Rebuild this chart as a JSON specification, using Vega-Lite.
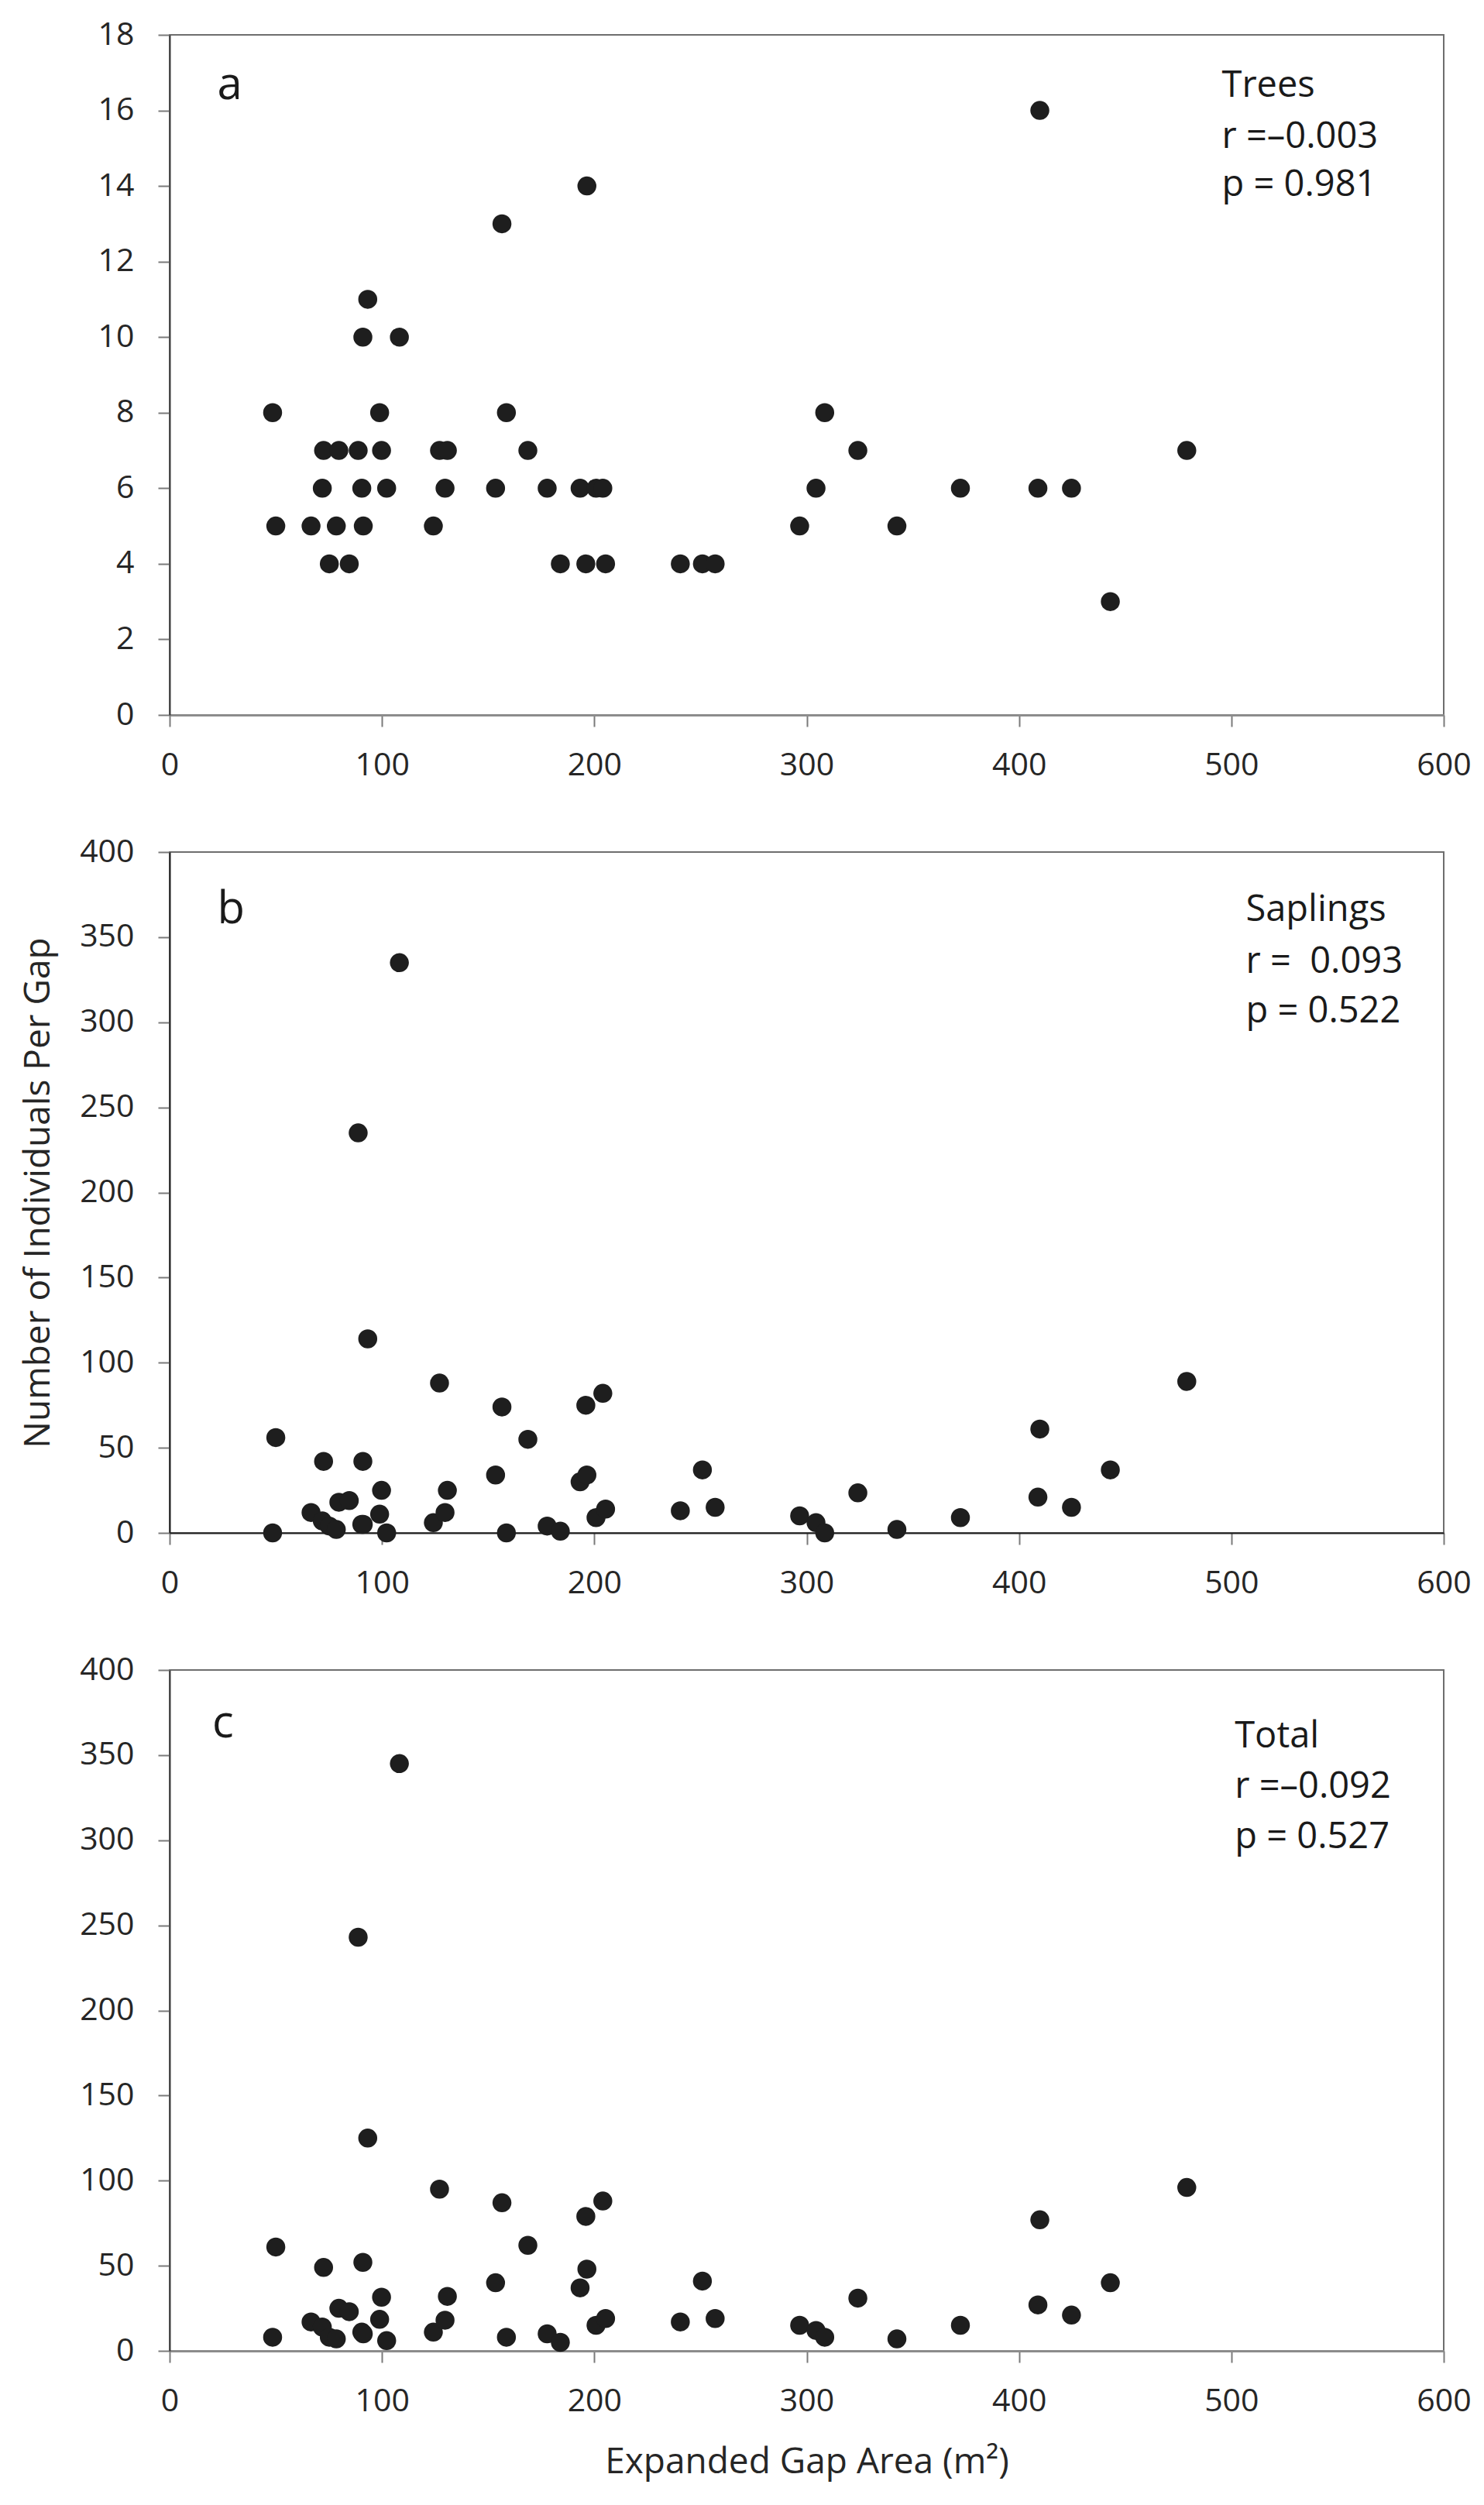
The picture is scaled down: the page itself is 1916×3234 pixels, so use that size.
{
  "$schema": "https://vega.github.io/schema/vega-lite/v6.json",
  "padding": {"left": 25, "top": 23, "right": 10, "bottom": 10},
  "background": "white",
  "bounds": "flush",
  "spacing": 177,
  "config": {
    "font": "Open Sans",
    "view": {"stroke": "#6e6e6e", "strokeWidth": 2},
    "axis": {
      "grid": false,
      "labelFont": "Open Sans",
      "labelFontSize": 41,
      "labelColor": "#262626",
      "labelPadding": 30,
      "labelFlush": false,
      "titleFont": "Open Sans",
      "titleFontSize": 46,
      "titleFontWeight": "normal",
      "titleColor": "#262626",
      "tickSize": 15,
      "tickColor": "#7a7a7a",
      "tickWidth": 2,
      "domainColor": "#3a3a3a",
      "domainWidth": 2
    }
  },
  "datasets": {
    "gaps": [
      {"area": 48.5, "trees": 8, "saplings": 0, "total": 8},
      {"area": 50.0, "trees": 5, "saplings": 56, "total": 61},
      {"area": 66.6, "trees": 5, "saplings": 12, "total": 17},
      {"area": 71.9, "trees": 6, "saplings": 7, "total": 14},
      {"area": 72.5, "trees": 7, "saplings": 42, "total": 49},
      {"area": 75.2, "trees": 4, "saplings": 4, "total": 8},
      {"area": 78.5, "trees": 5, "saplings": 2, "total": 7},
      {"area": 79.7, "trees": 7, "saplings": 18, "total": 25},
      {"area": 84.6, "trees": 4, "saplings": 19, "total": 23},
      {"area": 88.8, "trees": 7, "saplings": 235, "total": 243},
      {"area": 90.5, "trees": 6, "saplings": 5, "total": 11},
      {"area": 91.0, "trees": 10, "saplings": 42, "total": 52},
      {"area": 91.2, "trees": 5, "saplings": 5, "total": 10},
      {"area": 93.3, "trees": 11, "saplings": 114, "total": 125},
      {"area": 98.9, "trees": 8, "saplings": 11, "total": 18.5},
      {"area": 99.8, "trees": 7, "saplings": 25, "total": 31.5},
      {"area": 102.2, "trees": 6, "saplings": 0, "total": 6},
      {"area": 108.2, "trees": 10, "saplings": 335, "total": 345},
      {"area": 124.2, "trees": 5, "saplings": 6, "total": 11},
      {"area": 127.1, "trees": 7, "saplings": 88, "total": 95},
      {"area": 129.7, "trees": 6, "saplings": 12, "total": 18},
      {"area": 130.8, "trees": 7, "saplings": 25, "total": 32},
      {"area": 153.5, "trees": 6, "saplings": 34, "total": 40},
      {"area": 156.5, "trees": 13, "saplings": 74, "total": 87},
      {"area": 158.6, "trees": 8, "saplings": 0, "total": 8},
      {"area": 168.7, "trees": 7, "saplings": 55, "total": 62},
      {"area": 177.8, "trees": 6, "saplings": 4, "total": 10},
      {"area": 184.0, "trees": 4, "saplings": 1, "total": 5},
      {"area": 193.3, "trees": 6, "saplings": 30, "total": 37},
      {"area": 196.0, "trees": 4, "saplings": 75, "total": 79},
      {"area": 196.5, "trees": 14, "saplings": 34, "total": 48},
      {"area": 200.8, "trees": 6, "saplings": 9, "total": 15},
      {"area": 204.0, "trees": 6, "saplings": 82, "total": 88},
      {"area": 205.3, "trees": 4, "saplings": 14, "total": 19},
      {"area": 240.5, "trees": 4, "saplings": 13, "total": 17},
      {"area": 250.9, "trees": 4, "saplings": 37, "total": 41},
      {"area": 256.9, "trees": 4, "saplings": 15, "total": 19},
      {"area": 296.7, "trees": 5, "saplings": 10, "total": 15},
      {"area": 304.4, "trees": 6, "saplings": 6, "total": 12},
      {"area": 308.5, "trees": 8, "saplings": 0, "total": 8},
      {"area": 324.1, "trees": 7, "saplings": 23.5, "total": 31},
      {"area": 342.5, "trees": 5, "saplings": 2, "total": 7},
      {"area": 372.4, "trees": 6, "saplings": 9, "total": 15},
      {"area": 408.9, "trees": 6, "saplings": 21, "total": 27},
      {"area": 409.8, "trees": 16, "saplings": 61, "total": 77},
      {"area": 424.7, "trees": 6, "saplings": 15, "total": 21},
      {"area": 443.0, "trees": 3, "saplings": 37, "total": 40},
      {"area": 479.0, "trees": 7, "saplings": 89, "total": 96}
    ],
    "notesA": [
      {"area": 22.4, "trees": 16.29, "text": "a", "kind": "panel"},
      {"area": 495.5, "trees": 16.35, "text": "Trees", "kind": "stat"},
      {"area": 495.5, "trees": 15.0, "text": "r =–0.003", "kind": "stat"},
      {"area": 495.5, "trees": 13.74, "text": "p = 0.981", "kind": "stat"}
    ],
    "notesB": [
      {"area": 22.4, "saplings": 358.2, "text": "b", "kind": "panel"},
      {"area": 506.8, "saplings": 359.4, "text": "Saplings", "kind": "stat"},
      {"area": 506.8, "saplings": 329.1, "text": "r =\u00a0 0.093", "kind": "stat"},
      {"area": 506.8, "saplings": 300.1, "text": "p = 0.522", "kind": "stat"}
    ],
    "notesC": [
      {"area": 20.1, "total": 360.6, "text": "c", "kind": "panel"},
      {"area": 501.6, "total": 354.6, "text": "Total", "kind": "stat"},
      {"area": 501.6, "total": 325.0, "text": "r =–0.092", "kind": "stat"},
      {"area": 501.6, "total": 295.4, "text": "p = 0.527", "kind": "stat"}
    ]
  },
  "vconcat": [
    {
      "width": 1645,
      "height": 878,
      "encoding": {
        "x": {"field": "area", "type": "quantitative", "scale": {"domain": [0, 600], "nice": false, "zero": false},
              "axis": {"values": [0, 100, 200, 300, 400, 500, 600], "title": null, "domainColor": "#8c8c8c", "domainWidth": 3}},
        "y": {"field": "trees", "type": "quantitative", "scale": {"domain": [0, 18], "nice": false},
              "axis": {"values": [0, 2, 4, 6, 8, 10, 12, 14, 16, 18], "title": null, "labelPadding": 31}}
      },
      "layer": [
        {"data": {"name": "gaps"}, "mark": {"type": "circle", "size": 600, "color": "#1e1e1e", "opacity": 1}},
        {"data": {"name": "notesA"},
         "mark": {"type": "text", "align": "left", "baseline": "alphabetic", "color": "#1a1a1a", "font": "Open Sans"},
         "encoding": {"text": {"field": "text"},
                      "size": {"field": "kind", "type": "nominal", "scale": {"domain": ["panel", "stat"], "range": [58, 47]}, "legend": null}}}
      ]
    },
    {
      "width": 1645,
      "height": 879,
      "encoding": {
        "x": {"field": "area", "type": "quantitative", "scale": {"domain": [0, 600], "nice": false, "zero": false},
              "axis": {"values": [0, 100, 200, 300, 400, 500, 600], "title": null, "domainColor": "#1e1e1e"}},
        "y": {"field": "saplings", "type": "quantitative", "scale": {"domain": [0, 400], "nice": false},
              "axis": {"values": [0, 50, 100, 150, 200, 250, 300, 350, 400], "title": "Number of Individuals Per Gap", "labelPadding": 31, "titlePadding": 29, "domainColor": "#1e1e1e"}}
      },
      "layer": [
        {"data": {"name": "gaps"}, "mark": {"type": "circle", "size": 600, "color": "#1e1e1e", "opacity": 1}},
        {"data": {"name": "notesB"},
         "mark": {"type": "text", "align": "left", "baseline": "alphabetic", "color": "#1a1a1a", "font": "Open Sans"},
         "encoding": {"text": {"field": "text"},
                      "size": {"field": "kind", "type": "nominal", "scale": {"domain": ["panel", "stat"], "range": [58, 47]}, "legend": null}}}
      ]
    },
    {
      "width": 1645,
      "height": 879,
      "encoding": {
        "x": {"field": "area", "type": "quantitative", "scale": {"domain": [0, 600], "nice": false, "zero": false},
              "axis": {"values": [0, 100, 200, 300, 400, 500, 600], "title": "Expanded Gap Area (m²)", "titlePadding": 36, "domainColor": "#8c8c8c", "domainWidth": 3}},
        "y": {"field": "total", "type": "quantitative", "scale": {"domain": [0, 400], "nice": false},
              "axis": {"values": [0, 50, 100, 150, 200, 250, 300, 350, 400], "title": null, "labelPadding": 31}}
      },
      "layer": [
        {"data": {"name": "gaps"}, "mark": {"type": "circle", "size": 600, "color": "#1e1e1e", "opacity": 1}},
        {"data": {"name": "notesC"},
         "mark": {"type": "text", "align": "left", "baseline": "alphabetic", "color": "#1a1a1a", "font": "Open Sans"},
         "encoding": {"text": {"field": "text"},
                      "size": {"field": "kind", "type": "nominal", "scale": {"domain": ["panel", "stat"], "range": [58, 47]}, "legend": null}}}
      ]
    }
  ]
}
